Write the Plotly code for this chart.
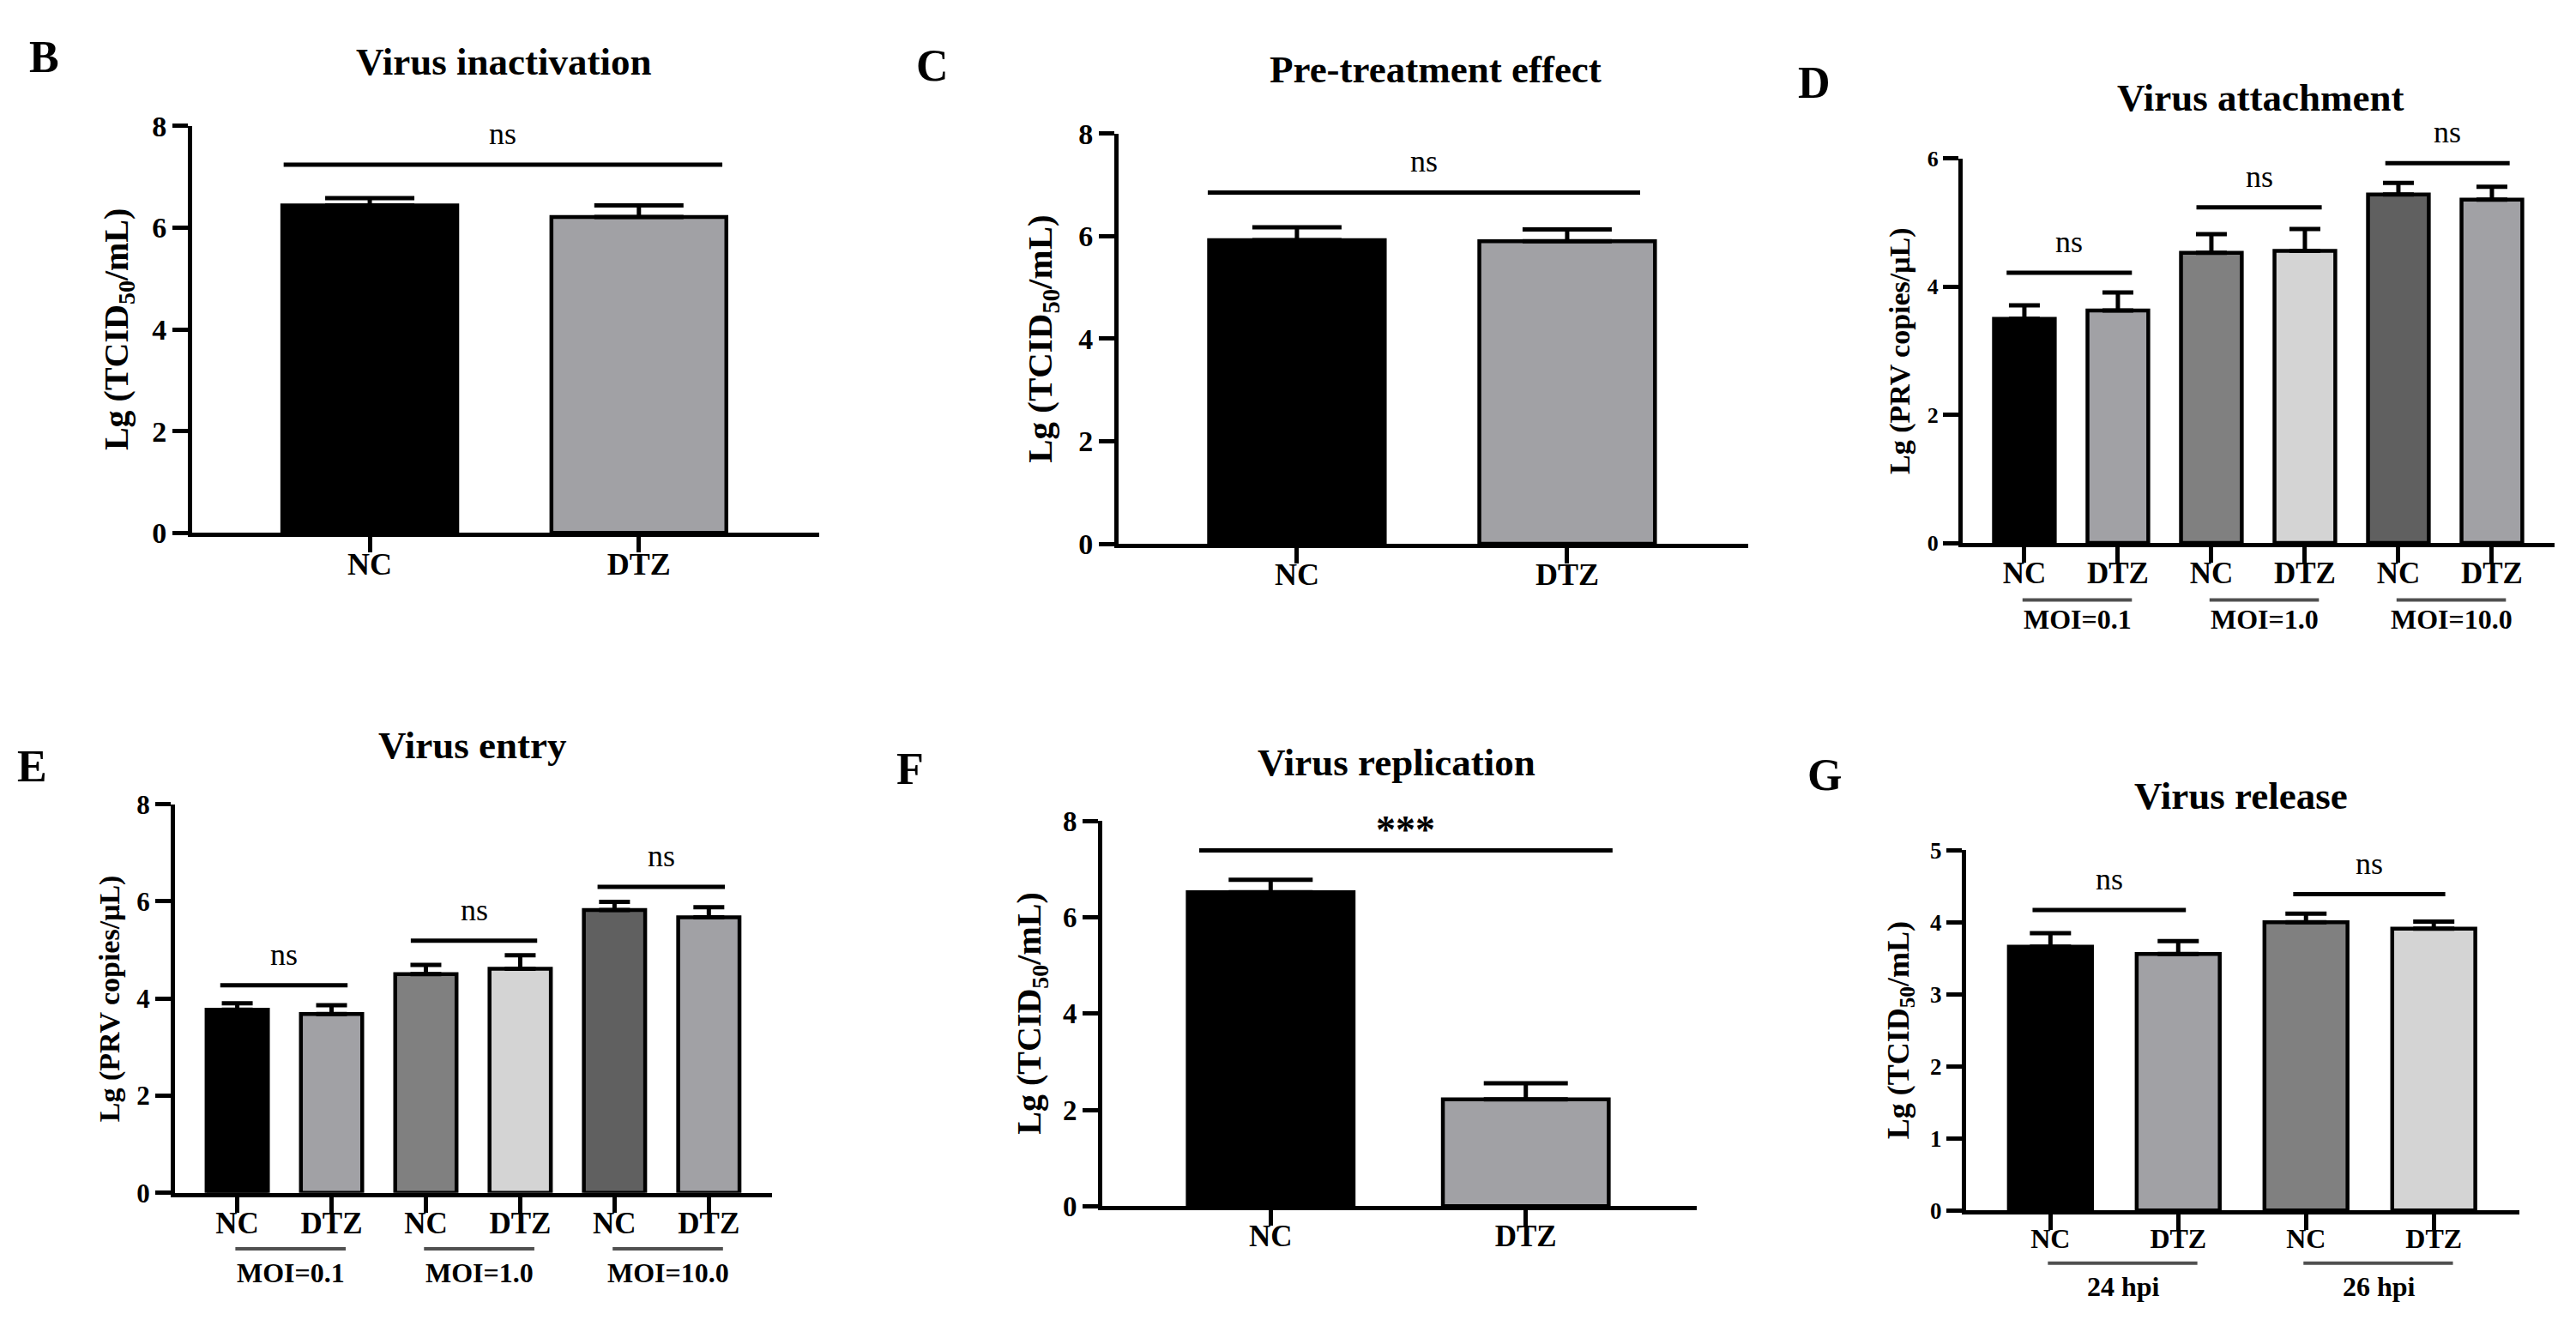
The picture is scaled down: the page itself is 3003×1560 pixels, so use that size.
import plotly.graph_objects as go

W, H = 3003, 1560
FONT = "Liberation Serif"

# ---- data ----
b_labels = ["NC", "DTZ"]
b_means = [6.44, 6.21]
b_errs = [0.14, 0.23]

c_labels = ["NC", "DTZ"]
c_means = [5.92, 5.90]
c_errs = [0.25, 0.23]

d_labels = ["NC", "DTZ", "NC", "DTZ", "NC", "DTZ"]
d_means = [3.50, 3.63, 4.53, 4.56, 5.44, 5.36]
d_errs = [0.21, 0.28, 0.29, 0.34, 0.18, 0.20]
d_groups = ["MOI=0.1", "MOI=1.0", "MOI=10.0"]

e_labels = ["NC", "DTZ", "NC", "DTZ", "NC", "DTZ"]
e_means = [3.77, 3.68, 4.50, 4.61, 5.82, 5.67]
e_errs = [0.13, 0.18, 0.19, 0.28, 0.17, 0.21]
e_groups = ["MOI=0.1", "MOI=1.0", "MOI=10.0"]

f_labels = ["NC", "DTZ"]
f_means = [6.52, 2.22]
f_errs = [0.26, 0.33]

g_labels = ["NC", "DTZ", "NC", "DTZ"]
g_means = [3.66, 3.56, 4.00, 3.91]
g_errs = [0.19, 0.18, 0.12, 0.10]
g_groups = ["24 hpi", "26 hpi"]

# significance bars: (x start, x end, line y, text)
b_sig = [(-0.32, 1.31, 7.24, "ns")]
c_sig = [(-0.33, 1.27, 6.85, "ns")]
d_sig = [(-0.19, 1.15, 4.22, "ns"), (1.84, 3.18, 5.24, "ns"), (3.86, 5.19, 5.93, "ns")]
e_sig = [(-0.18, 1.17, 4.27, "ns"), (1.84, 3.18, 5.19, "ns"), (3.82, 5.17, 6.30, "ns")]
f_sig = [(-0.28, 1.34, 7.39, "***")]
g_sig = [(-0.14, 1.06, 4.17, "ns"), (1.90, 3.09, 4.39, "ns")]

two_colors = ["#000000", "#a1a1a5"]
six_colors = ["#000000", "#a1a1a5", "#808080", "#d4d4d4", "#606060", "#a1a1a5"]
four_colors = ["#000000", "#a1a1a5", "#808080", "#d4d4d4"]

TCID = "Lg (TCID<sub>50</sub>/mL)"
PRV = "Lg (PRV copies/μL)"

panels = [
    dict(letter="B", title="Virus inactivation", labels=b_labels, means=b_means, errs=b_errs,
         colors=two_colors, sig=b_sig, ymax=8, dtick=2, ytitle=TCID,
         box=(224, 955, 132, 618), letter_xy=(51, 50), title_xy=(587, 55), ytitle_x=138,
         cap=52, xfont=36, yfont=34, tfont=40),
    dict(letter="C", title="Pre-treatment effect", labels=c_labels, means=c_means, errs=c_errs,
         colors=two_colors, sig=c_sig, ymax=8, dtick=2, ytitle=TCID,
         box=(1304, 2038, 141, 631), letter_xy=(1087, 60), title_xy=(1673, 65), ytitle_x=1215,
         cap=52, xfont=36, yfont=34, tfont=41),
    dict(letter="D", title="Virus attachment", labels=d_labels, means=d_means, errs=d_errs,
         colors=six_colors, sig=d_sig, ymax=6, dtick=2, ytitle=PRV,
         box=(2288, 2978, 171, 630), letter_xy=(2115, 80), title_xy=(2635, 98), ytitle_x=2215,
         cap=18, xfont=35, yfont=26, tfont=34, groups=d_groups, group_y=(698, 721)),
    dict(letter="E", title="Virus entry", labels=e_labels, means=e_means, errs=e_errs,
         colors=six_colors, sig=e_sig, ymax=8, dtick=2, ytitle=PRV,
         box=(204, 900, 942, 1406), letter_xy=(37, 897), title_xy=(551, 872), ytitle_x=128,
         cap=18, xfont=35, yfont=31, tfont=34, groups=e_groups, group_y=(1473, 1502)),
    dict(letter="F", title="Virus replication", labels=f_labels, means=f_means, errs=f_errs,
         colors=two_colors, sig=f_sig, ymax=8, dtick=2, ytitle=TCID,
         box=(1285, 1978, 962, 1422), letter_xy=(1061, 900), title_xy=(1628, 892), ytitle_x=1202,
         cap=49, xfont=35, yfont=33, tfont=40),
    dict(letter="G", title="Virus release", labels=g_labels, means=g_means, errs=g_errs,
         colors=four_colors, sig=g_sig, ymax=5, dtick=1, ytitle=TCID,
         box=(2292, 2937, 997, 1427), letter_xy=(2127, 907), title_xy=(2612, 932), ytitle_x=2215,
         cap=24, xfont=32, yfont=27, tfont=36, groups=g_groups, group_y=(1490, 1518)),
]


def bold(size):
    return dict(family=FONT, size=size, color="black", weight="bold")


def note(text, x, y, font, xref="paper", yref="paper", **kw):
    return dict(text=text, x=x, y=y, xref=xref, yref=yref, showarrow=False,
                xanchor="center", yanchor="middle", font=font, **kw)


fig = go.Figure()
layout = {}
annotations = []
shapes = []

for i, p in enumerate(panels, start=1):
    sfx = "" if i == 1 else str(i)
    xref, yref = "x" + sfx, "y" + sfx
    n = len(p["labels"])
    xs = list(range(n))
    x0, x1, ytop, ybot = p["box"]

    fig.add_trace(go.Bar(
        x=xs, y=p["means"], xaxis=xref, yaxis=yref, width=0.65,
        marker=dict(color=p["colors"], line=dict(color="black", width=4.5)),
        error_y=dict(type="data", array=p["errs"], arrayminus=[0] * n, symmetric=False,
                     color="black", thickness=5, width=p["cap"]),
        showlegend=False, hoverinfo="skip",
    ))

    layout["xaxis" + sfx] = dict(
        domain=[x0 / W, x1 / W], anchor=yref, range=[-0.66, n - 1 + 0.67],
        tickvals=xs, ticktext=p["labels"], ticks="outside", ticklen=18, tickwidth=5,
        tickcolor="black", showline=True, linewidth=5, linecolor="black",
        showgrid=False, zeroline=False, tickfont=bold(p["xfont"]), fixedrange=True,
        ticklabelstandoff=-18,
    )
    layout["yaxis" + sfx] = dict(
        domain=[1 - ybot / H, 1 - ytop / H], anchor=xref, range=[0, p["ymax"]],
        dtick=p["dtick"], ticks="outside", ticklen=18, tickwidth=5, tickcolor="black",
        showline=True, linewidth=5, linecolor="black", showgrid=False, zeroline=False,
        tickfont=bold(p["yfont"]), fixedrange=True,
    )

    # panel letter, title, y-axis title
    lx, ly = p["letter_xy"]
    annotations.append(note(p["letter"], lx / W, 1 - ly / H, bold(52)))
    tx, ty = p["title_xy"]
    annotations.append(note(p["title"], tx / W, 1 - ty / H, bold(45)))
    annotations.append(note(p["ytitle"], p["ytitle_x"] / W, 1 - (ytop + ybot) / 2 / H,
                            bold(p["tfont"]), textangle=-90))

    # significance brackets
    for sx0, sx1, sy, txt in p["sig"]:
        shapes.append(dict(type="line", xref=xref, yref=yref, x0=sx0, x1=sx1, y0=sy, y1=sy,
                           line=dict(color="black", width=5)))
        if txt.startswith("*"):
            annotations.append(note(txt, (sx0 + sx1) / 2, sy, bold(46), xref, yref, yshift=24))
        else:
            annotations.append(note(txt, (sx0 + sx1) / 2, sy, dict(family=FONT, size=36, color="black"),
                                    xref, yref, yshift=36))

    # group underlines and labels
    if "groups" in p:
        uy, gy = p["group_y"]
        for k, g in enumerate(p["groups"]):
            g0 = 2 * k
            shapes.append(dict(type="line", xref=xref, yref="paper", x0=g0 - 0.02, x1=g0 + 1.15,
                               y0=1 - uy / H, y1=1 - uy / H, line=dict(color="#505050", width=4)))
            annotations.append(note(g, g0 + 0.57, 1 - gy / H, bold(32), xref))

fig.update_layout(
    width=W, height=H, margin=dict(l=0, r=0, t=0, b=0),
    paper_bgcolor="white", plot_bgcolor="white",
    annotations=annotations, shapes=shapes, bargap=0.35,
    **layout,
)

# drop the default page margin so the figure sits at the window's corner
fig.write_html("out.html", config={"displayModeBar": False},
               post_script="document.body.style.margin='0';")
